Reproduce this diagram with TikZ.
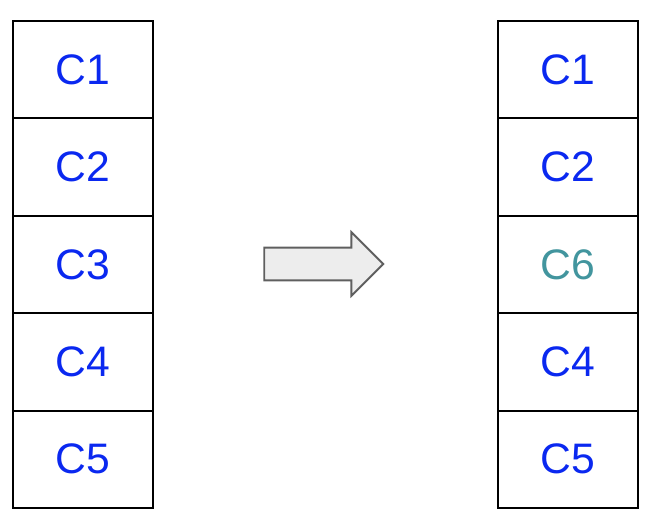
\documentclass[tikz,border=0pt]{standalone}
\usepackage{fontspec}
\setmainfont{Liberation Sans}
\usetikzlibrary{positioning, shapes.arrows}
\definecolor{cellblue}{HTML}{0A28F0}
\definecolor{cellteal}{HTML}{42959E}
\definecolor{arrowgray}{HTML}{5F5F5F}

\begin{document}
\begin{tikzpicture}[
    x=0.75pt, y=-0.75pt,
    node distance=0pt,
    cell/.style={rectangle, draw=black, line width=1.5pt, minimum width=105pt, minimum height=73.05pt, outer sep=0pt, inner sep=0pt, text=cellblue, font=\fontsize{32}{38}\selectfont},
    bigarrow/.style={single arrow, draw=arrowgray, fill=black!7, line width=1.4pt, minimum height=89.25pt, inner xsep=0pt, inner ysep=11.6pt, single arrow head extend=11.6pt, single arrow tip angle=90, outer sep=0pt}
]
\useasboundingbox (0,0) rectangle (652,524);
% left stack
\node[cell] (l1) at (83,69.7) {C1};
\node[cell, below=of l1] (l2) {C2};
\node[cell, below=of l2] (l3) {C3};
\node[cell, below=of l3] (l4) {C4};
\node[cell, below=of l4] (l5) {C5};
% right stack
\node[cell] (r1) at (567.5,69.7) {C1};
\node[cell, below=of r1] (r2) {C2};
\node[cell, below=of r2, text=cellteal] (r3) {C6};
\node[cell, below=of r3] (r4) {C4};
\node[cell, below=of r4] (r5) {C5};
% replace arrow
\node[bigarrow] (swap) at (315.5,264) {};
\end{tikzpicture}
\end{document}
